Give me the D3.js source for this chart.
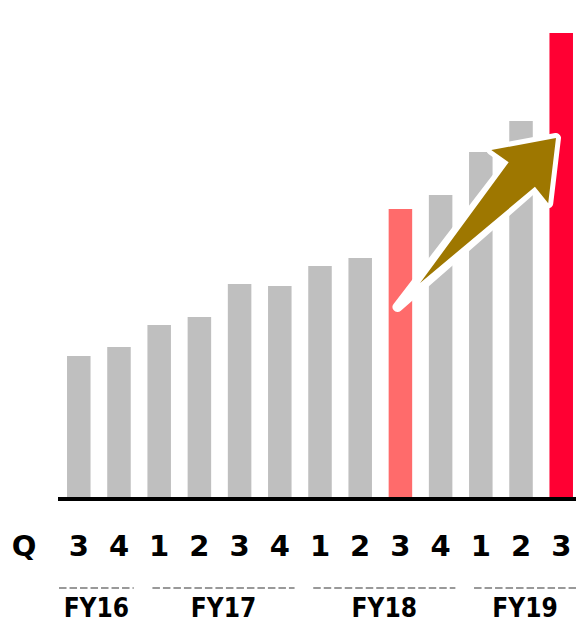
<!DOCTYPE html>
<html>
<head>
<meta charset="utf-8">
<script src="https://cdn.jsdelivr.net/npm/d3@7"></script>
<style>
  html, body { margin: 0; padding: 0; background: #fff; }
  svg { display: block; }
  text { font-weight: bold; fill: #000; }
  .q { font-family: "DejaVu Sans", Verdana, sans-serif; }
  .fy { font-family: "DejaVu Sans Condensed", "Liberation Sans", Arial, sans-serif; font-stretch: condensed; }
</style>
</head>
<body>
<svg id="chart" width="576" height="623"></svg>
<script>
// Quarterly values (relative units), oldest to newest
const quarters = ["3", "4", "1", "2", "3", "4", "1", "2", "3", "4", "1", "2", "3"];
const values   = [141, 150, 172, 180, 213, 211, 231, 239, 288, 302, 345, 376, 464];
// Bar highlight: 0 = regular, 1 = prior-year same quarter, 2 = current quarter
const highlight = [0, 0, 0, 0, 0, 0, 0, 0, 1, 0, 0, 0, 2];
const barColors = ["#bfbfbf", "#ff6b6b", "#ff0033"];

// Fiscal-year groups: label, first and last bar index
const fiscalYears = ["FY16", "FY17", "FY18", "FY19"];
const fyFirst     = [0, 2, 6, 10];
const fyLast      = [1, 5, 9, 12];

// Growth arrow: [bar position, value] of the tail and of the tip
const arrowFrom = [8.49, 214];
const arrowTo   = [11.87, 359];

const svg = d3.select("#chart");

const x = d3.scaleBand()
  .domain(d3.range(values.length))
  .range([63, 577])
  .paddingInner(0.415)
  .paddingOuter(0.1);

const y = d3.scaleLinear()
  .domain([0, 464])
  .range([497, 33]);

const bw = x.bandwidth();
const xc = d3.scaleLinear()
  .domain([0, values.length - 1])
  .range([x(0) + bw / 2, x(values.length - 1) + bw / 2]);

// Bars
svg.append("g")
  .selectAll("rect")
  .data(values)
  .join("rect")
  .attr("x", (d, i) => x(i))
  .attr("y", d => y(d))
  .attr("width", bw)
  .attr("height", d => y(0) - y(d))
  .attr("fill", (d, i) => barColors[highlight[i]]);

// Baseline
svg.append("line")
  .attr("x1", 58).attr("x2", 576)
  .attr("y1", y(0) + 2).attr("y2", y(0) + 2)
  .attr("stroke", "#000")
  .attr("stroke-width", 4);

// Quarter labels
svg.append("text")
  .attr("class", "q")
  .attr("x", 24).attr("y", 556)
  .attr("text-anchor", "middle")
  .attr("font-size", 29)
  .text("Q");

svg.append("g")
  .selectAll("text")
  .data(quarters)
  .join("text")
  .attr("class", "q")
  .attr("x", (d, i) => x(i) + bw / 2)
  .attr("y", 556)
  .attr("text-anchor", "middle")
  .attr("font-size", 29)
  .text(d => d);

// Fiscal-year brackets (dashed) and labels
const fyG = svg.append("g");
fiscalYears.forEach((fy, k) => {
  const x0 = k === 0 ? x(fyFirst[k]) - 8 : x(fyFirst[k]) + 5;
  const x1 = Math.min(576, x(fyLast[k]) + bw + 3);
  fyG.append("line")
    .attr("x1", x0).attr("x2", x1)
    .attr("y1", 588).attr("y2", 588)
    .attr("stroke", "#999")
    .attr("stroke-width", 2)
    .attr("stroke-dasharray", "7.5,3");
  fyG.append("text")
    .attr("class", "fy")
    .attr("x", (x0 + x1) / 2)
    .attr("y", 616.5)
    .attr("text-anchor", "middle")
    .attr("font-size", 26)
    .text(fy);
});

// Growth arrow built in a frame along its direction
const T = [xc(arrowFrom[0]), y(arrowFrom[1])];
const P = [xc(arrowTo[0]), y(arrowTo[1])];
const dx = P[0] - T[0], dy = P[1] - T[1];
const L = Math.hypot(dx, dy);
const u = [dx / L, dy / L];
const n = [u[1], -u[0]];
const pt = (s, t) => [T[0] + u[0] * s + n[0] * t, T[1] + u[1] * s + n[1] * t];
const headBase = L - 50, shaftHalf = 18, headHalf = 39;

function arrowPath(tailS) {
  return d3.line()([
    pt(tailS, 0),
    pt(headBase, shaftHalf),
    pt(headBase - 3, headHalf),
    pt(L, 0),
    pt(headBase - 3, -headHalf),
    pt(headBase, -shaftHalf)
  ]) + "Z";
}

svg.append("path")
  .attr("d", arrowPath(-33))
  .attr("fill", "#fff")
  .attr("stroke", "#fff")
  .attr("stroke-width", 10)
  .attr("stroke-linejoin", "round");

svg.append("path")
  .attr("d", arrowPath(0))
  .attr("fill", "#9e7700");
</script>
</body>
</html>
